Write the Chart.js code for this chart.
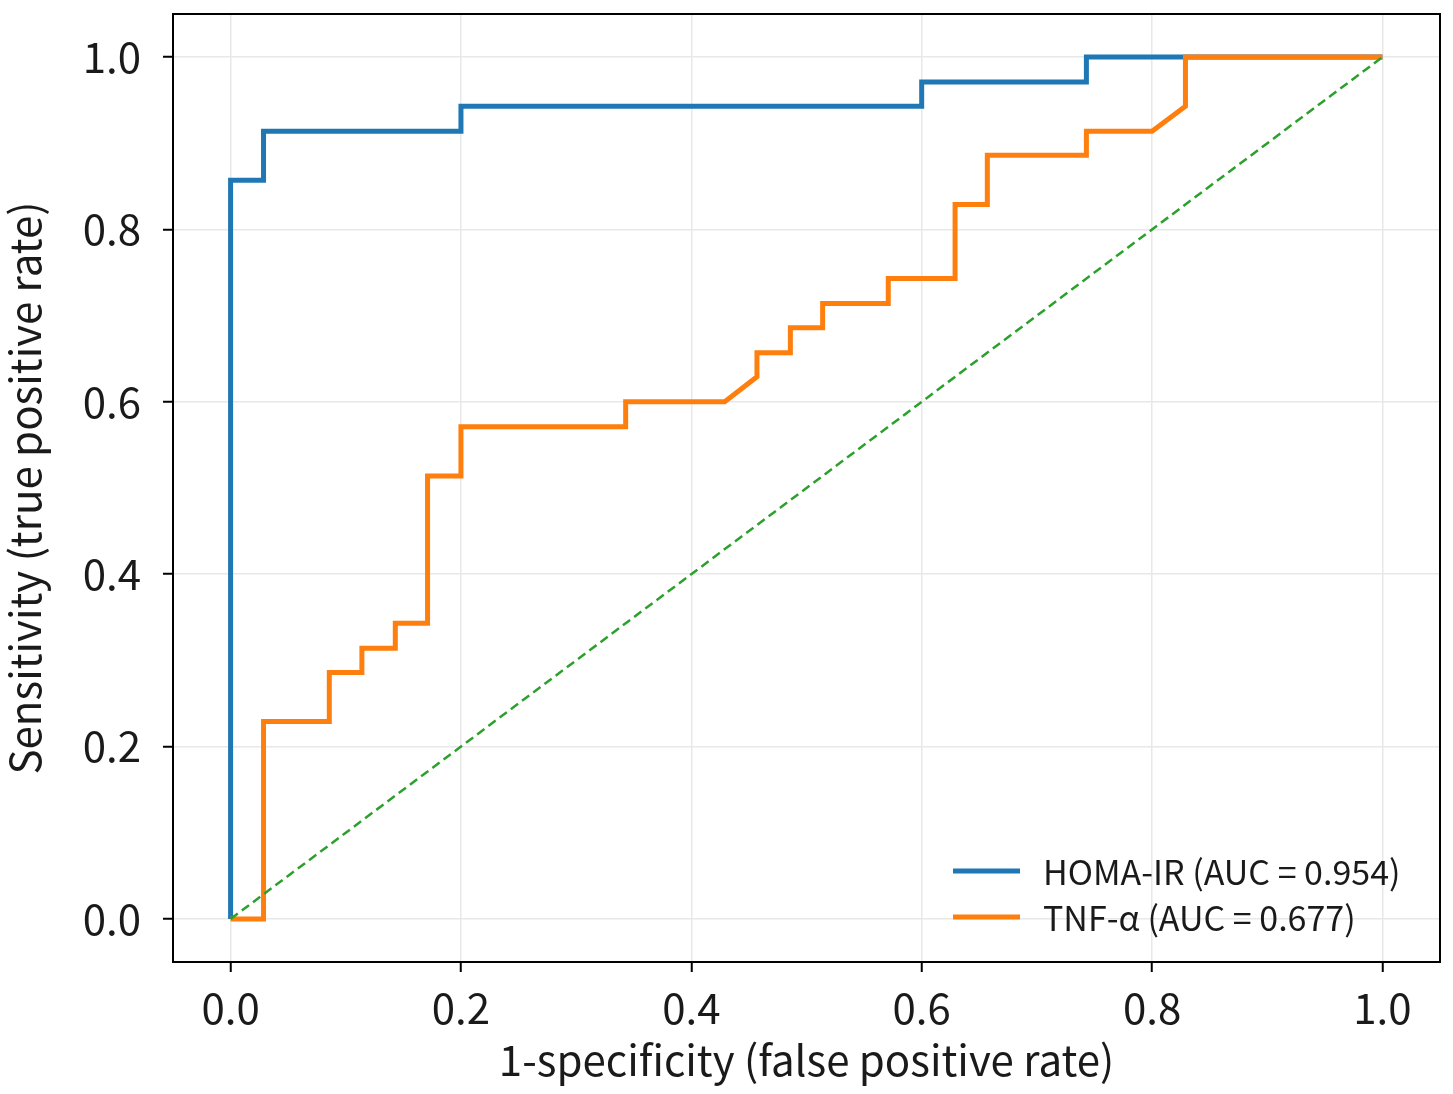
<!DOCTYPE html>
<html>
<head>
<meta charset="utf-8">
<script src="https://cdn.jsdelivr.net/npm/chart.js@4"></script>
<style>
  html, body { margin: 0; padding: 0; background: #fff; }
  #wrap { width: 1453px; height: 1094px; }
</style>
</head>
<body>
<div id="wrap"><canvas id="roc"></canvas></div>
<script>
// ROC curves (35 cases per group)
const homaFpr = [0, 0, 0.0286, 0.0286, 0.2, 0.2, 0.6, 0.6, 0.743, 0.743, 1.0];
const homaTpr = [0, 0.857, 0.857, 0.914, 0.914, 0.943, 0.943, 0.971, 0.971, 1.0, 1.0];

const tnfFpr = [0, 0.0286, 0.0286, 0.0857, 0.0857, 0.114, 0.114, 0.143, 0.143, 0.171, 0.171, 0.2, 0.2,
  0.343, 0.343, 0.429, 0.457, 0.457, 0.486, 0.486, 0.514, 0.514, 0.571, 0.571, 0.629, 0.629,
  0.657, 0.657, 0.743, 0.743, 0.8, 0.829, 0.829, 1.0];
const tnfTpr = [0, 0, 0.229, 0.229, 0.286, 0.286, 0.314, 0.314, 0.343, 0.343, 0.514, 0.514, 0.571,
  0.571, 0.6, 0.6, 0.629, 0.657, 0.657, 0.686, 0.686, 0.714, 0.714, 0.743, 0.743, 0.829,
  0.829, 0.886, 0.886, 0.914, 0.914, 0.943, 1.0, 1.0];

const chanceX = [0, 1];
const chanceY = [0, 1];

const seriesLabels = ['HOMA-IR (AUC = 0.954)', 'TNF-\u03b1 (AUC = 0.677)'];
const tickValues = [0, 0.2, 0.4, 0.6, 0.8, 1.0];

const FONT = '"Noto Sans CJK JP", "Noto Sans", sans-serif';

function pts(xs, ys) {
  return xs.map((x, i) => ({ x: x, y: ys[i] }));
}

// frame on all four sides + legend inside the plot, lower right
const framePlugin = {
  id: 'frameAndLegend',
  afterDraw(chart) {
    const ctx = chart.ctx;
    const a = chart.chartArea;
    ctx.save();
    ctx.strokeStyle = '#000';
    ctx.lineWidth = 2;
    ctx.strokeRect(a.left, a.top, a.right - a.left, a.bottom - a.top);

    const items = chart.data.datasets.filter(d => d.showInLegend);
    const x0 = a.right - 487;
    let y0 = a.bottom - 91;
    ctx.font = '34px ' + FONT;
    ctx.textBaseline = 'middle';
    items.forEach(d => {
      ctx.strokeStyle = d.borderColor;
      ctx.lineWidth = 5;
      ctx.beginPath();
      ctx.moveTo(x0, y0);
      ctx.lineTo(x0 + 67, y0);
      ctx.stroke();
      ctx.fillStyle = '#1a1a1a';
      ctx.fillText(d.label, x0 + 90, y0 + 1);
      y0 += 46;
    });
    ctx.restore();
  }
};

new Chart(document.getElementById('roc'), {
  type: 'scatter',
  data: {
    datasets: [
      {
        label: seriesLabels[0],
        data: pts(homaFpr, homaTpr),
        showLine: true,
        borderColor: '#1f77b4',
        borderWidth: 5,
        pointRadius: 0,
        tension: 0,
        order: 3,
        showInLegend: true
      },
      {
        label: seriesLabels[1],
        data: pts(tnfFpr, tnfTpr),
        showLine: true,
        borderColor: '#ff7f0e',
        borderWidth: 5,
        pointRadius: 0,
        tension: 0,
        order: 2,
        showInLegend: true
      },
      {
        label: 'chance',
        data: pts(chanceX, chanceY),
        showLine: true,
        borderColor: '#2ca02c',
        borderWidth: 2.5,
        borderDash: [9, 5],
        pointRadius: 0,
        order: 1,
        showInLegend: false
      }
    ]
  },
  options: {
    responsive: true,
    maintainAspectRatio: false,
    animation: false,
    layout: { padding: { top: 14, right: 13, left: 0, bottom: 0 } },
    plugins: {
      legend: { display: false },
      tooltip: { enabled: false }
    },
    scales: {
      x: {
        type: 'linear',
        min: -0.05,
        max: 1.05,
        afterBuildTicks: s => { s.ticks = tickValues.map(v => ({ value: v })); },
        afterFit: s => { s.height = 132; s.paddingLeft = 0; s.paddingRight = 0; },
        grid: { color: '#e8e8e8', lineWidth: 1.5, tickColor: '#000', tickLength: 10, tickWidth: 2 },
        border: { color: '#000', width: 2 },
        ticks: {
          color: '#1a1a1a',
          font: { family: FONT, size: 42 },
          padding: 11,
          callback: v => v.toFixed(1)
        },
        title: {
          display: true,
          text: '1-specificity (false positive rate)',
          color: '#1a1a1a',
          font: { family: FONT, size: 42 },
          padding: { top: 0, bottom: 9 }
        }
      },
      y: {
        type: 'linear',
        min: -0.05,
        max: 1.05,
        afterBuildTicks: s => { s.ticks = tickValues.map(v => ({ value: v })); },
        afterFit: s => { s.width = 173; s.paddingTop = 0; s.paddingBottom = 0; },
        grid: { color: '#e8e8e8', lineWidth: 1.5, tickColor: '#000', tickLength: 10, tickWidth: 2 },
        border: { color: '#000', width: 2 },
        ticks: {
          color: '#1a1a1a',
          font: { family: FONT, size: 42 },
          padding: 22,
          callback: v => v.toFixed(1)
        },
        title: {
          display: true,
          text: 'Sensitivity (true positive rate)',
          color: '#1a1a1a',
          font: { family: FONT, size: 42 },
          padding: { top: 0, bottom: 0 }
        }
      }
    }
  },
  plugins: [framePlugin]
});
</script>
</body>
</html>
